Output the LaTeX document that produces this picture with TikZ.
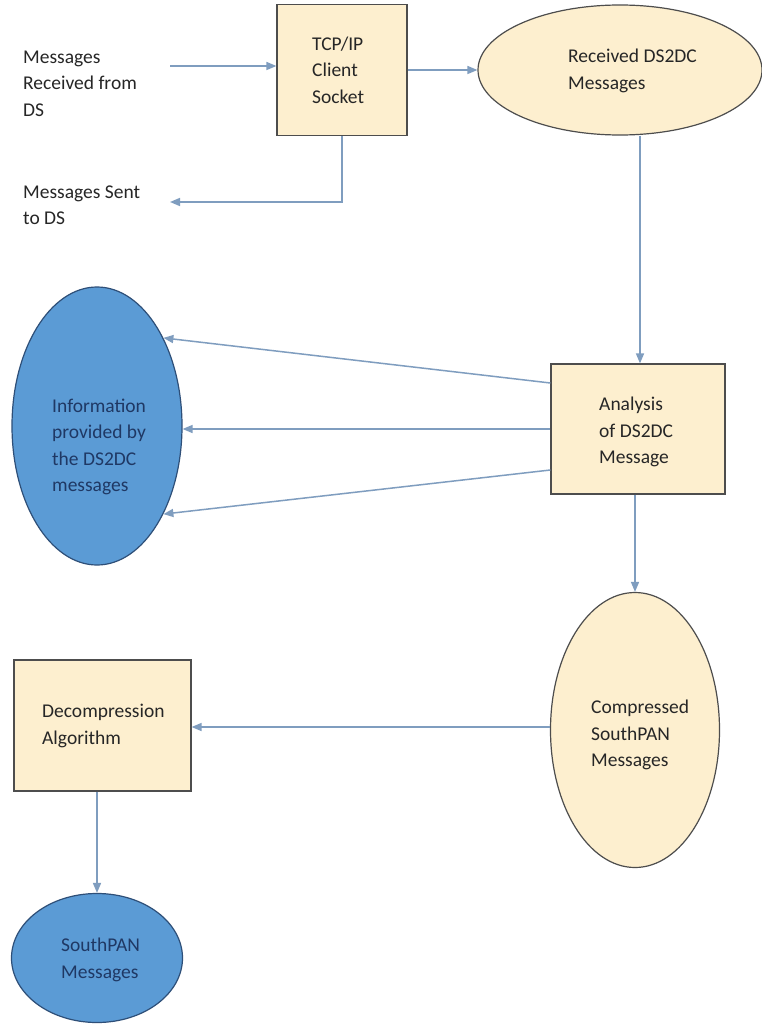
\documentclass[tikz,border=0pt]{standalone}
\usepackage{fontspec}
\setmainfont{Carlito}
\usetikzlibrary{shapes.geometric,arrows.meta}
\definecolor{boxfill}{HTML}{FDEFCF}
\definecolor{boxline}{HTML}{4D4D4D}
\definecolor{bluefill}{HTML}{5B9BD5}
\definecolor{blueline}{HTML}{2E4F78}
\definecolor{arrowcol}{HTML}{7F9DBF}
\definecolor{navytext}{HTML}{1F3864}
\definecolor{darktext}{HTML}{262626}
\tikzset{
  yellowbox/.style={draw=boxline, fill=boxfill, line width=1.2pt, rectangle, inner sep=0pt},
  yellowell/.style={draw=boxline, fill=boxfill, line width=1.2pt, ellipse, inner sep=0pt},
  blueell/.style={draw=blueline, fill=bluefill, line width=1.2pt, ellipse, inner sep=0pt},
  txt/.style={font=\fontsize{19.5}{26.5}\selectfont, text=darktext, align=left, inner sep=0pt},
  bluetxt/.style={txt, text=navytext},
  arr/.style={draw=arrowcol, line width=1.5pt, -{Triangle[length=10pt,width=8pt]}},
  ln/.style={draw=arrowcol, line width=1.5pt}
}
\begin{document}
\begin{tikzpicture}[x=1pt, y=-1pt]
\useasboundingbox (0,0) rectangle (761,1024);
\fill[white] (0,0) rectangle (761,1024);

% shapes
\node[yellowbox, minimum width=130pt, minimum height=131pt] (tcp) at (342,70) {};
\node[yellowell, minimum width=284pt, minimum height=130pt] (recv) at (620,70) {};
\node[blueell, minimum width=170pt, minimum height=278pt] (info) at (97,426) {};
\node[yellowbox, minimum width=174pt, minimum height=130pt] (ana) at (638,429) {};
\node[yellowell, minimum width=169pt, minimum height=275pt] (comp) at (635,730) {};
\node[yellowbox, minimum width=177pt, minimum height=131pt] (dec) at (102.5,725.5) {};
\node[blueell, minimum width=171pt, minimum height=129pt] (sp) at (97,958) {};

% texts
\node[txt, anchor=west] (tin) at (23,83.5) {Messages\\Received from\\DS};
\node[txt, anchor=west] (tout) at (23,205) {Messages Sent\\to DS};
\node[txt, anchor=west] (ttcp) at (312,70) {TCP/IP\\Client\\Socket};
\node[txt, anchor=west] (trecv) at (568,71) {Received DS2DC\\Messages};
\node[bluetxt, anchor=west] (tinfo) at (52,447) {Information\\provided by\\the DS2DC\\messages};
\node[txt, anchor=west] (tana) at (599,432) {Analysis\\of DS2DC\\Message};
\node[txt, anchor=west] (tcomp) at (591,735) {Compressed\\SouthPAN\\Messages};
\node[txt, anchor=west] (tdec) at (42,726) {Decompression\\Algorithm};
\node[bluetxt, anchor=west] (tsp) at (61,960) {SouthPAN\\Messages};

% connectors
\coordinate (inpt) at (170,66);
\coordinate (outpt) at (170,202);
\draw[arr] (inpt) -- (inpt -| tcp.west);
\draw[arr] (tcp.east) -- (recv.west);
\draw[arr] (tcp.south) -- (tcp.south |- outpt) -- (outpt);
\draw[arr] (recv.south -| 640,0) -- (ana.north -| 640,0);
\draw[arr] ([yshift=46pt]ana.west) -- (info.53.4);
\draw[arr] (ana.west) -- (ana.west -| info.east);
\draw[arr] ([yshift=-41pt]ana.west) -- (info.-53.4);
\draw[arr] (ana.south -| comp.north) -- (comp.north);
\draw[arr] ([yshift=3pt]comp.west) -- ([yshift=3pt]comp.west -| dec.east);
\draw[arr] (dec.south -| sp.north) -- (sp.north);
\end{tikzpicture}
\end{document}
